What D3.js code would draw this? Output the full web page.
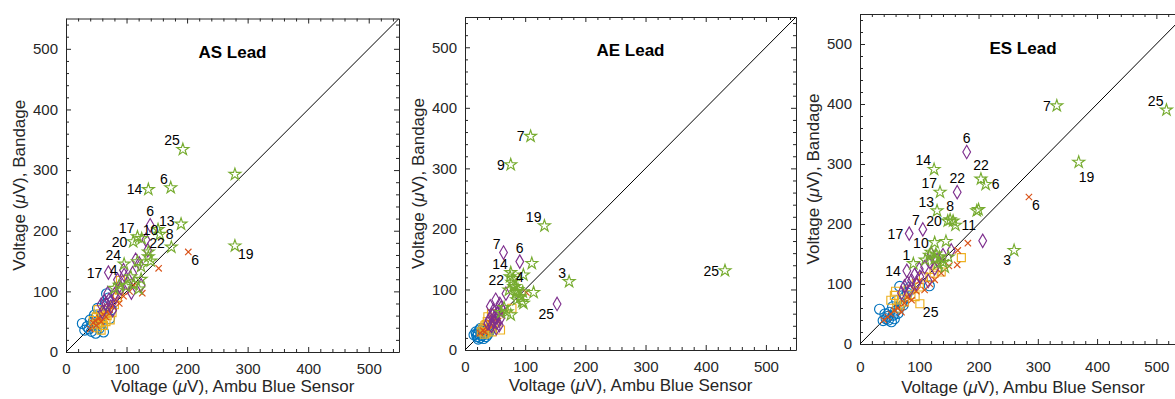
<!DOCTYPE html>
<html>
<head>
<meta charset="utf-8">
<script src="https://cdn.jsdelivr.net/npm/d3@7"></script>
<style>
  body { margin: 0; background: #fff; }
  svg { display: block; font-family: "Liberation Sans", Arial, sans-serif; }
</style>
</head>
<body>
<svg id="chart" width="1175" height="399"></svg>
<script>
// ---- data (values in uV) ----
const leads = ['AS Lead', 'AE Lead', 'ES Lead'];
const axisDomain = [0, 550];
const axisTicks = [0, 100, 200, 300, 400, 500];
const seriesColors = ['#0072BD', '#EDB120', '#D95319', '#7E2F8E', '#77AC30'];
const seriesShapes = ['circle', 'square', 'cross', 'diamond', 'star'];

// AS lead: [ambu, bandage]
const asCircles = [[27,47],[31,36],[35,42],[38,38],[40,53],[42,34],[44,44],[45,50],[47,61],[49,31],[50,58],[52,72],[55,39],[56,50],[58,45],[60,61],[62,33],[65,79],[67,96],[70,89],[72,55],[75,70]];
const asSquares = [[45,52],[48,45],[50,58],[52,40],[53,70],[55,48],[57,63],[58,36],[60,55],[62,44],[65,68],[66,50],[68,60],[70,72],[73,53],[76,65],[80,78],[85,90],[88,102],[90,118]];
const asCrosses = [[40,38],[45,48],[48,52],[50,44],[55,56],[58,50],[62,62],[66,58],[68,66],[72,70],[78,75],[82,86],[88,80],[95,92],[105,100],[112,110],[126,97],[153,138],[202,165]];
const asDiamonds = [[58,78],[60,66],[63,84],[66,80],[69,97],[70,131],[71,86],[74,75],[77,69],[80,95],[82,91],[85,119],[88,108],[91,105],[95,135],[96,127],[102,113],[108,98],[110,130],[115,152],[121,146],[124,110],[132,185],[135,168],[139,209]];
const asStars = [[80,105],[88,110],[96,145],[99,108],[107,124],[111,182],[112,112],[118,149],[118,190],[120,104],[124,141],[124,120],[125,187],[136,157],[136,165],[136,268],[140,150],[152,202],[155,194],[173,271],[174,173],[190,211],[193,334],[279,293],[279,175]];
const asLabels = [[193,334,'25','ul'],[136,268,'14','l'],[173,271,'6','ul'],[152,202,'13','ur'],[155,194,'8','r'],[118,190,'17','ul'],[125,187,'10','ur'],[111,182,'20','l'],[136,165,'22','ur'],[96,145,'24','ul'],[70,131,'17','l'],[95,135,'4','l'],[139,209,'6','u'],[202,165,'6','dr'],[279,175,'19','dr']];

// AE lead
const aeCircles = [[15,25],[18,30],[19,26],[20,22],[22,18],[22,27],[24,33],[25,20],[26,36],[27,28],[28,24],[29,31],[30,35],[31,19],[33,27],[35,22],[36,32],[38,26],[40,30],[42,34]];
const aeSquares = [[27,30],[30,36],[32,26],[33,40],[35,28],[35,42],[37,47],[38,55],[40,33],[42,38],[44,60],[45,30],[48,44],[50,52],[59,33],[78,69]];
const aeCrosses = [[25,28],[30,32],[33,30],[35,38],[38,35],[42,45],[45,52],[46,40],[50,50],[55,48],[60,58],[102,95]];
const aeDiamonds = [[38,44],[40,50],[42,72],[44,40],[45,58],[47,65],[48,47],[50,55],[51,83],[52,36],[53,45],[54,61],[56,64],[57,41],[58,76],[59,52],[60,70],[62,66],[64,161],[68,93],[91,146],[153,76]];
const aeStars = [[60,62],[65,70],[70,63],[73,99],[75,121],[76,58],[76,128],[76,306],[78,112],[80,118],[81,105],[83,105],[85,95],[86,83],[86,97],[88,100],[92,88],[95,80],[96,96],[97,77],[97,124],[109,353],[111,143],[114,95],[132,205],[173,113],[432,131]];
const aeLabels = [[109,353,'7','l'],[76,306,'9','l'],[132,205,'19','ul'],[432,131,'25','l'],[173,113,'3','ul'],[153,76,'25','dl'],[64,161,'7','ul'],[91,146,'6','u'],[76,128,'14','ul'],[75,121,'22','lb'],[83,105,'4','ur']];

// ES lead
const esCircles = [[33,58],[39,39],[42,50],[44,42],[47,46],[48,40],[50,53],[53,37],[55,62],[56,48],[58,42],[60,55],[62,72],[64,51],[66,60],[67,96],[70,68],[73,65],[76,79],[80,85],[85,95],[117,97]];
const esSquares = [[52,73],[58,81],[60,88],[62,60],[67,65],[70,75],[75,70],[81,90],[86,82],[93,79],[95,101],[100,95],[101,67],[107,112],[118,111],[125,118],[130,128],[137,120],[171,144]];
const esCrosses = [[40,40],[47,45],[52,50],[58,56],[64,60],[70,53],[75,68],[80,78],[87,73],[95,88],[100,105],[109,90],[118,100],[126,107],[137,118],[150,130],[164,132],[165,156],[182,168],[285,245]];
const esDiamonds = [[70,85],[75,96],[79,122],[80,102],[83,184],[84,90],[87,106],[92,115],[95,101],[100,125],[101,112],[106,191],[109,128],[115,105],[118,137],[120,150],[126,126],[130,140],[140,148],[154,156],[164,253],[180,320],[207,172]];
const esStars = [[90,134],[110,140],[117,148],[120,153],[126,142],[126,169],[128,150],[125,291],[130,222],[131,134],[134,145],[135,253],[140,136],[143,128],[145,171],[148,205],[149,145],[152,207],[157,205],[161,198],[197,222],[200,224],[204,275],[212,266],[260,156],[332,397],[369,303],[517,390]];
const esLabels = [[332,397,'7','l'],[517,390,'25','ul'],[180,320,'6','u'],[125,291,'14','ul'],[369,303,'19','d'],[204,275,'22','u'],[212,266,'6','r'],[135,253,'17','ul'],[164,253,'22','u'],[285,245,'6','dr'],[130,222,'13','ul'],[152,207,'8','u'],[148,205,'20','l'],[161,198,'11','r'],[106,191,'7','ul'],[83,184,'17','l'],[126,169,'10','l'],[90,134,'1','ul'],[79,122,'14','l'],[260,156,'3','dl'],[101,67,'25','dr']];

// ---- layout ----
const panels = [
  {title: leads[0], left: 66,  top: 18.5, w: 333, h: 333.5, pad: 11, titleY: 58, xLabelY: 392,
   series: [asCircles, asSquares, asCrosses, asDiamonds, asStars], labels: asLabels},
  {title: leads[1], left: 465, top: 17,   w: 331, h: 333,   pad: 11, titleY: 56, xLabelY: 391,
   series: [aeCircles, aeSquares, aeCrosses, aeDiamonds, aeStars], labels: aeLabels},
  {title: leads[2], left: 860, top: 14,   w: 326, h: 330,   pad: 17, titleY: 54, xLabelY: 393,
   series: [esCircles, esSquares, esCrosses, esDiamonds, esStars], labels: esLabels}
];

// label placement relative to its marker: [anchor, dx, dy]
const labelPos = {
  l: ['end', -6, 5], lb: ['end', -6, 8], r: ['start', 6, 5], ul: ['end', -3, -4], ur: ['start', 1, -4],
  u: ['middle', 0, -9], dl: ['end', -3, 15], dr: ['start', 3, 13], d: ['start', 0, 20]
};

const symbols = {
  circle: d3.symbol(d3.symbolCircle, Math.PI * 25)(),
  square: d3.symbol(d3.symbolSquare, 64)(),
  cross: d3.symbol(d3.symbolTimes || d3.symbolX, 28)(),
  diamond: d3.symbol(d3.symbolDiamond, 52)(),
  star: d3.symbol(d3.symbolStar, 44)()
};

const ink = '#262626';
const svg = d3.select('#chart');
const minorTicks = d3.range(0, 551, 20).filter(v => v % 100 !== 0);

panels.forEach((p, i) => {
  const x = d3.scaleLinear().domain(axisDomain).range([p.left, p.left + p.w]);
  const y = d3.scaleLinear().domain(axisDomain).range([p.top + p.h, p.top]);
  const g = svg.append('g');

  g.append('clipPath').attr('id', 'clip' + i)
    .append('rect').attr('x', p.left).attr('y', p.top).attr('width', p.w).attr('height', p.h);

  // axes on all four sides, ticks pointing inward
  const styleAxis = sel => {
    sel.selectAll('.domain').attr('stroke', ink);
    sel.selectAll('.tick line').attr('stroke', ink);
    sel.selectAll('.tick text').attr('fill', ink).style('font-size', '15px');
  };
  g.append('g').attr('transform', `translate(0,${p.top + p.h})`)
    .call(d3.axisBottom(x).tickValues(axisTicks).tickSizeInner(-5).tickSizeOuter(0).tickPadding(p.pad)).call(styleAxis);
  g.append('g').attr('transform', `translate(0,${p.top})`)
    .call(d3.axisTop(x).tickValues(axisTicks).tickSizeInner(-5).tickSizeOuter(0).tickFormat('')).call(styleAxis);
  g.append('g').attr('transform', `translate(${p.left},0)`)
    .call(d3.axisLeft(y).tickValues(axisTicks).tickSizeInner(-5).tickSizeOuter(0).tickPadding(8)).call(styleAxis);
  g.append('g').attr('transform', `translate(${p.left + p.w},0)`)
    .call(d3.axisRight(y).tickValues(axisTicks).tickSizeInner(-5).tickSizeOuter(0).tickFormat('')).call(styleAxis);

  // minor ticks
  [[d3.axisBottom(x), `translate(0,${p.top + p.h})`], [d3.axisTop(x), `translate(0,${p.top})`],
   [d3.axisLeft(y), `translate(${p.left},0)`], [d3.axisRight(y), `translate(${p.left + p.w},0)`]]
    .forEach(([ax, tr]) => {
      const m = g.append('g').attr('transform', tr)
        .call(ax.tickValues(minorTicks).tickSizeInner(-3).tickSizeOuter(0).tickFormat(''));
      m.select('.domain').remove();
      m.selectAll('.tick line').attr('stroke', ink);
    });

  const plot = g.append('g').attr('clip-path', `url(#clip${i})`);

  // identity line
  plot.append('line')
    .attr('x1', x(axisDomain[0])).attr('y1', y(axisDomain[0]))
    .attr('x2', x(axisDomain[1])).attr('y2', y(axisDomain[1]))
    .attr('stroke', '#000').attr('stroke-width', 1);

  p.series.forEach((pts, s) => {
    plot.append('g').selectAll('path').data(pts).enter().append('path')
      .attr('d', symbols[seriesShapes[s]])
      .attr('transform', d => `translate(${x(d[0])},${y(d[1])})`)
      .attr('fill', 'none')
      .attr('stroke', seriesColors[s])
      .attr('stroke-width', 1.15);
  });

  // subject numbers
  g.append('g').selectAll('text').data(p.labels).enter().append('text')
    .attr('x', d => x(d[0]) + labelPos[d[3]][1])
    .attr('y', d => y(d[1]) + labelPos[d[3]][2])
    .attr('text-anchor', d => labelPos[d[3]][0])
    .style('font-size', '14px')
    .attr('fill', '#000')
    .text(d => d[2]);

  // title
  g.append('text')
    .attr('x', p.left + p.w / 2).attr('y', p.titleY)
    .attr('text-anchor', 'middle')
    .style('font-size', '17px').style('font-weight', 'bold')
    .text(p.title);

  // axis titles
  const xl = g.append('text')
    .attr('x', p.left + p.w / 2).attr('y', p.xLabelY)
    .attr('text-anchor', 'middle').attr('fill', ink).style('font-size', '17px');
  xl.append('tspan').text('Voltage (');
  xl.append('tspan').style('font-style', 'italic').text('\u03bc');
  xl.append('tspan').text('V), Ambu Blue Sensor');

  const yl = g.append('text')
    .attr('transform', `translate(${p.left - 41},${p.top + p.h / 2}) rotate(-90)`)
    .attr('text-anchor', 'middle').attr('fill', ink).style('font-size', '17px');
  yl.append('tspan').text('Voltage (');
  yl.append('tspan').style('font-style', 'italic').text('\u03bc');
  yl.append('tspan').text('V), Bandage');
});
</script>
</body>
</html>
